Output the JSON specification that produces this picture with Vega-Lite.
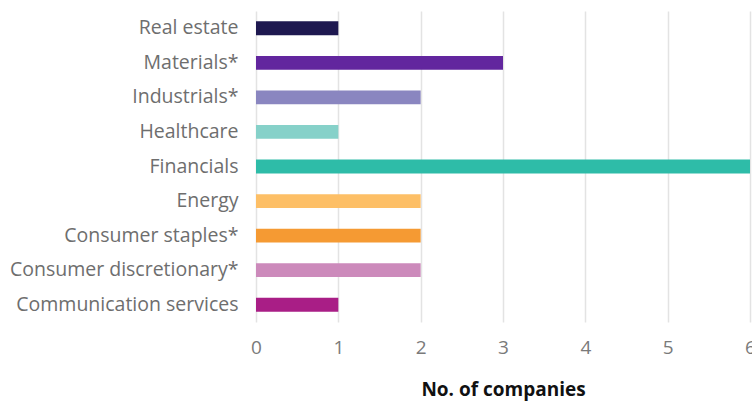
{
  "$schema": "https://vega.github.io/schema/vega-lite/v6.json",
  "autosize": "none",
  "width": 494,
  "height": 311,
  "padding": {"left": 256, "top": 11, "right": 2, "bottom": 79},
  "background": "white",
  "config": {"view": {"stroke": null}, "font": "Open Sans"},
  "data": {
    "values": [
      {"sector": "Real estate", "count": 1, "color": "#1e1850"},
      {"sector": "Materials*", "count": 3, "color": "#62269e"},
      {"sector": "Industrials*", "count": 2, "color": "#8a86c0"},
      {"sector": "Healthcare", "count": 1, "color": "#86d1c9"},
      {"sector": "Financials", "count": 6, "color": "#2ebca8"},
      {"sector": "Energy", "count": 2, "color": "#fdbf66"},
      {"sector": "Consumer staples*", "count": 2, "color": "#f59a33"},
      {"sector": "Consumer discretionary*", "count": 2, "color": "#cc8abb"},
      {"sector": "Communication services", "count": 1, "color": "#a91e86"}
    ]
  },
  "mark": {"type": "bar"},
  "encoding": {
    "y": {
      "field": "sector",
      "type": "nominal",
      "sort": null,
      "scale": {"paddingInner": 0.6, "paddingOuter": 0.3},
      "axis": {
        "title": null,
        "domain": false,
        "ticks": false,
        "labelFontSize": 19.5,
        "labelColor": "#6e6e6e",
        "labelPadding": 18,
        "labelLimit": 0,
        "labelFont": "Open Sans"
      }
    },
    "x": {
      "field": "count",
      "type": "quantitative",
      "scale": {"domain": [0, 6], "nice": false},
      "axis": {
        "title": "No. of companies",
        "titleFontSize": 19,
        "titleFontWeight": "bold",
        "titleColor": "#111111",
        "titlePadding": 23,
        "titleFont": "Open Sans",
        "values": [0, 1, 2, 3, 4, 5, 6],
        "domain": false,
        "ticks": false,
        "grid": true,
        "gridColor": "#e3e3e3",
        "gridWidth": 1.5,
        "labelFontSize": 19,
        "labelColor": "#7a7a7a",
        "labelPadding": 16,
        "labelFont": "Open Sans",
        "labelFlush": false
      }
    },
    "color": {"field": "color", "type": "nominal", "scale": null, "legend": null}
  }
}
